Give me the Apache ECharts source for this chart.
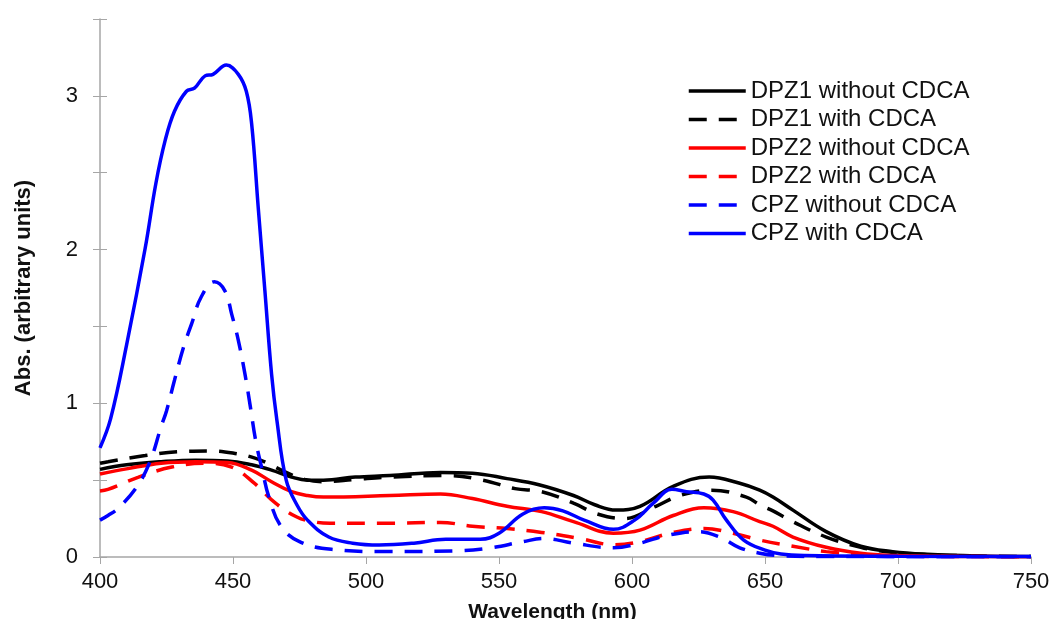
<!DOCTYPE html>
<html>
<head>
<meta charset="utf-8">
<script src="https://cdn.jsdelivr.net/npm/echarts@6/dist/echarts.min.js"></script>
<style>
  html, body { margin: 0; padding: 0; background: #fff; overflow: hidden; }
  #main { width: 1054px; height: 619px; }
</style>
</head>
<body>
<div id="main"></div>
<script>
// axis ticks
var xTicks = [400, 450, 500, 550, 600, 650, 700, 750];
var yTicks = [0, 1, 2, 3];

// series names, same order as legend
var seriesNames = ['DPZ1 without CDCA', 'DPZ1 with CDCA', 'DPZ2 without CDCA', 'DPZ2 with CDCA', 'CPZ without CDCA', 'CPZ with CDCA'];

// [wavelength nm, absorbance]
var dpz1Without = [[400,0.57],[410,0.60],[423,0.62],[436,0.63],[448,0.625],[457,0.60],[464.5,0.565],[472,0.52],[478,0.50],[484,0.50],[496,0.52],[509,0.53],[528,0.55],[540,0.545],[553,0.51],[565,0.47],[578,0.40],[586,0.34],[594,0.305],[603,0.33],[615.5,0.46],[629,0.52],[640.5,0.48],[648,0.435],[653,0.39],[660.5,0.305],[673,0.165],[686,0.07],[698,0.035],[711,0.018],[730,0.007],[750,0.003]];
var dpz1With = [[400,0.61],[403,0.62],[417,0.66],[429,0.685],[442,0.69],[452,0.67],[458,0.645],[463,0.61],[470,0.55],[477,0.505],[484,0.49],[496,0.505],[509,0.52],[531,0.53],[544,0.50],[556,0.445],[566,0.425],[578,0.35],[587,0.28],[597,0.25],[609,0.33],[618,0.40],[630,0.435],[643,0.39],[648,0.34],[653,0.30],[660.5,0.23],[673,0.13],[686,0.063],[693,0.04],[705,0.02],[725,0.008],[750,0.003]];
var dpz2Without = [[400,0.54],[410.5,0.575],[423,0.61],[436,0.62],[448,0.615],[457,0.565],[464.5,0.49],[472,0.425],[478,0.40],[484,0.39],[509,0.40],[528,0.41],[540,0.38],[553,0.33],[566,0.295],[578,0.23],[593,0.155],[603,0.175],[615.5,0.27],[627,0.32],[638,0.295],[648,0.23],[653,0.20],[660.5,0.13],[673,0.063],[686,0.024],[698,0.01],[720,0.004],[750,0.002]];
var dpz2With = [[400,0.43],[403,0.44],[414.5,0.52],[427,0.585],[439.5,0.61],[449.5,0.585],[458,0.48],[466,0.35],[474,0.26],[480,0.23],[486.5,0.22],[509,0.22],[528,0.225],[540,0.20],[553,0.185],[566,0.16],[580.5,0.12],[593,0.08],[603,0.10],[615.5,0.16],[627,0.185],[638,0.155],[648,0.11],[660.5,0.07],[673,0.035],[686,0.015],[700,0.005],[750,0.002]];
var cpzWithout = [[400,0.24],[403,0.27],[407,0.32],[414,0.46],[419,0.63],[423,0.85],[425,0.95],[428,1.15],[431.5,1.37],[434.5,1.52],[438,1.69],[443,1.79],[447,1.73],[449.5,1.58],[452,1.41],[454.5,1.19],[456.5,0.98],[458.5,0.76],[461,0.565],[463.5,0.39],[468,0.20],[475,0.10],[487,0.05],[509,0.035],[534,0.04],[547,0.06],[559,0.10],[567,0.12],[578,0.09],[593,0.06],[603,0.09],[613,0.14],[625,0.165],[633,0.13],[640.5,0.06],[648,0.025],[656,0.008],[670,0.003],[750,0.002]];
var cpzWith = [[400,0.71],[404,0.90],[410,1.38],[417,2.01],[421,2.43],[424.5,2.71],[428,2.90],[432.5,3.03],[435.5,3.05],[439.5,3.13],[442.5,3.14],[447.5,3.20],[452,3.14],[455,3.03],[457,2.82],[459.5,2.27],[462,1.73],[464.5,1.19],[466.5,0.89],[470,0.50],[474,0.34],[478,0.24],[486,0.13],[495,0.09],[505,0.078],[518,0.09],[530,0.115],[543,0.115],[550,0.155],[559,0.28],[567,0.32],[574,0.30],[582,0.24],[593,0.18],[601,0.24],[608,0.35],[615,0.44],[620.5,0.425],[627,0.41],[630.5,0.37],[635.5,0.24],[642,0.11],[650,0.045],[656,0.02],[665,0.01],[700,0.005],[750,0.003]];

var chart = echarts.init(document.getElementById('main'));

function line(name, data, color, dashed) {
    return {
        name: name,
        type: 'line',
        data: data,
        smooth: 0.4,
        showSymbol: false,
        symbol: 'none',
        lineStyle: { color: color, width: 3.5, type: dashed ? [18, 12] : 'solid' },
        itemStyle: { color: color }
    };
}

var axisGrey = '#a6a6a6';
var option = {
    backgroundColor: '#fff',
    animation: false,
    grid: { left: 100, right: 23, top: 19, bottom: 62, outerBoundsMode: 'none' },
    legend: {
        orient: 'vertical',
        left: 687,
        top: 79,
        padding: 0,
        itemWidth: 57,
        itemHeight: 14,
        itemGap: 4.5,
        itemStyle: { opacity: 0 },
        lineStyle: { width: 3.5 },
        textStyle: { fontFamily: 'Liberation Sans', fontSize: 24, color: '#111', lineHeight: 24 },
        data: seriesNames
    },
    xAxis: {
        type: 'value',
        min: xTicks[0],
        max: xTicks[xTicks.length - 1],
        interval: 50,
        name: 'Wavelength (nm)',
        nameLocation: 'middle',
        nameGap: 45,
        nameTextStyle: { fontFamily: 'Liberation Sans', fontSize: 21, fontWeight: 'bold', color: '#111', padding: [0, 26, 0, 0] },
        axisLine: { lineStyle: { color: axisGrey, width: 1.5 } },
        axisTick: { show: true, length: 7, lineStyle: { color: axisGrey } },
        axisLabel: { fontFamily: 'Liberation Sans', fontSize: 22, color: '#111', margin: 14 },
        splitLine: { show: false }
    },
    yAxis: [{
        type: 'value',
        min: 0,
        max: 3.5,
        interval: 0.5,
        name: 'Abs. (arbitrary units)',
        nameLocation: 'middle',
        nameGap: 65,
        nameTextStyle: { fontFamily: 'Liberation Sans', fontSize: 22, fontWeight: 'bold', color: '#111' },
        axisLine: { show: true, lineStyle: { color: axisGrey, width: 1.5 } },
        axisTick: { show: true, length: 7, lineStyle: { color: axisGrey } },
        axisLabel: {
            fontFamily: 'Liberation Sans', fontSize: 22, color: '#111', margin: 22,
            formatter: function (v) { return yTicks.indexOf(v) >= 0 ? String(v) : ''; }
        },
        splitLine: { show: false }
    }, {
        // inner half of the crossing tick marks
        type: 'value',
        position: 'left',
        offset: 0,
        min: 0,
        max: 3.5,
        interval: 0.5,
        axisLine: { show: false },
        axisTick: { show: true, inside: true, length: 7, lineStyle: { color: axisGrey } },
        axisLabel: { show: false },
        splitLine: { show: false }
    }],
    series: [
        line(seriesNames[0], dpz1Without, '#000000', false),
        line(seriesNames[1], dpz1With, '#000000', true),
        line(seriesNames[2], dpz2Without, '#ff0000', false),
        line(seriesNames[3], dpz2With, '#ff0000', true),
        line(seriesNames[4], cpzWithout, '#0000ff', true),
        line(seriesNames[5], cpzWith, '#0000ff', false)
    ]
};
chart.setOption(option);
</script>
</body>
</html>
